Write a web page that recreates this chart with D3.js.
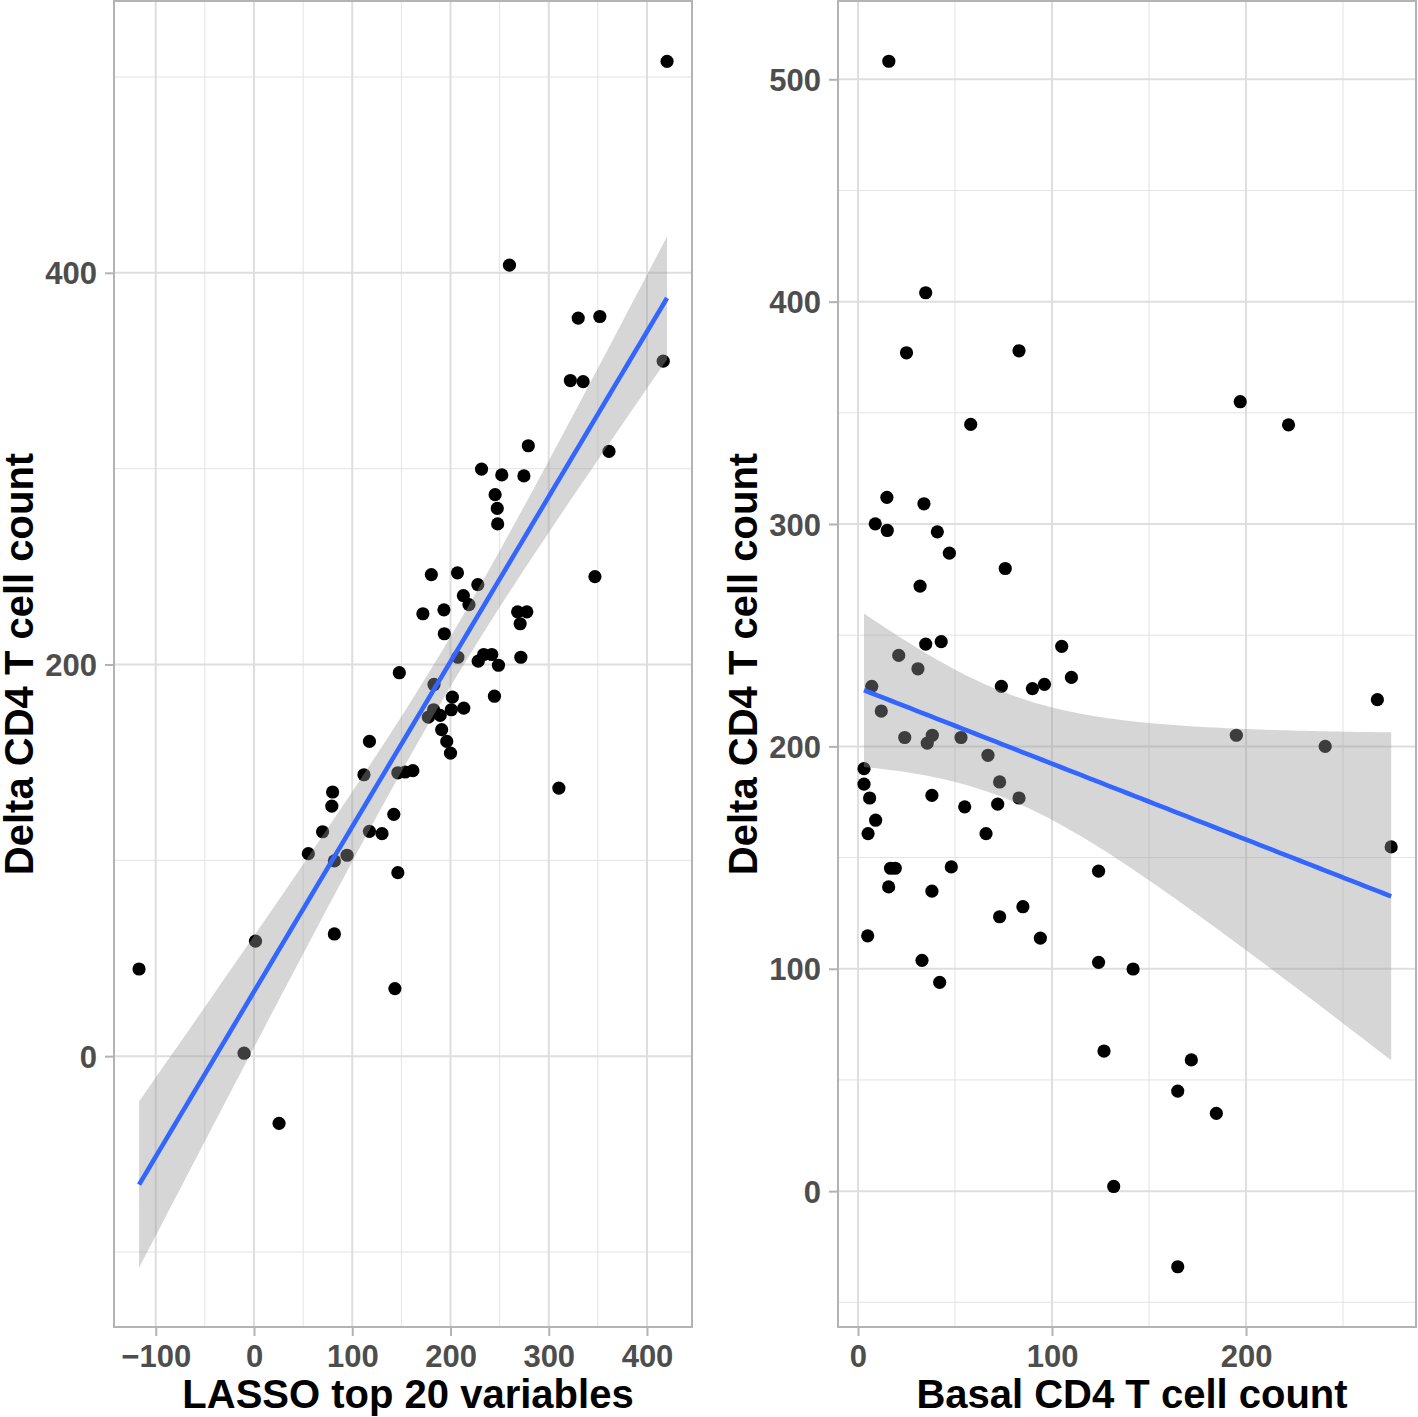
<!DOCTYPE html>
<html><head><meta charset="utf-8">
<script src="https://cdn.jsdelivr.net/npm/d3@7"></script>
<style>
html,body{margin:0;padding:0;background:#fff;}
text{font-family:"Liberation Sans",Arial,Helvetica,sans-serif;font-weight:bold;}
</style></head>
<body>
<svg id="chart" width="1418" height="1417"></svg>
<script>
// ---- Left panel data: LASSO top 20 variables vs Delta CD4 T cell count
const lassoX = [260,330,352,416.5,322,335,279.2,361.3,231.6,252.2,274.7,245.4,247.6,248,
  180.5,207.1,227.8,213.1,218.8,347,171.9,193.3,268.3,277.7,270.9,193.7,207.5,228.2,233.8,242,248.8,271.6,
  147.9,183.2,201.9,244.7,213.5,200.8,182.8,177.5,189.5,191,196.2,200,117.5,111.9,146.4,153.9,161.7,
  80,79.2,310.3,142.3,69.8,117.5,130.3,
  55.3,81.8,94.7,146.4,1.5,81.8,-117,143.4,-10.1,25.5,420.4];
const deltaLeft = [403.9,376.9,377.7,354.9,345,344.4,311.7,308.8,299.8,296.8,296.3,286.7,279.7,271.8,
  245.9,246.8,240.8,235.2,230.6,244.9,225.9,227.9,226.9,226.9,220.8,215.7,203.7,201.7,205.1,205.1,199.6,203.7,
  195.8,189.8,183.3,183.8,177.7,176.9,176.9,173.1,174,166.7,160.7,154.7,160.7,143.7,144.7,145.1,145.8,
  134.9,127.7,136.9,123.5,114.6,114.8,113.6,
  103.4,99.7,102.6,93.7,58.7,62.4,44.5,34.5,1.5,-34.3,508];

// ---- Right panel data: Basal CD4 T cell count vs Delta CD4 T cell count
const basalX = [15.9,34.9,25,83,58.1,197,221.9,
  14.9,34,8.9,15.1,40.9,47.1,75.9,32,34.9,42.9,21,30.9,105,110,7.1,73.9,89.9,96.1,12,
  267.7,195,240.8,274.8,
  24.1,38.3,35.7,53.1,67,3.1,3.1,73,6,38.1,55,72,83,9.1,5.2,66,16.8,19.2,48.1,124,15.8,38.1,85,73,94,5,33,124,141.8,42.1,
  126.8,171.8,164.8,184.7,131.8,164.8];
const deltaRight = [508.1,404,377,377.9,344.8,355,344.6,
  312,309.1,300.1,297.1,296.5,286.9,280,272.1,246,247.1,240.9,234.9,245,231,227,227,226,227.9,215.9,
  221,205,200,154.8,
  204,205,201.5,204,196,190,183,184,176.8,178,172.8,174,176.8,166.8,160.8,160.8,145.2,145.2,145.8,143.9,136.8,134.9,127.9,123.4,113.8,114.8,103.8,102.9,99.9,93.9,
  63,59,45,35,2.1,-34];

// ---- Axis definitions
const leftXTicks = [-100,0,100,200,300,400];
const leftYTicks = [0,200,400];
const rightXTicks = [0,100,200];
const rightYTicks = [0,100,200,300,400,500];
const xTitles = ["LASSO top 20 variables","Basal CD4 T cell count"];
const yTitle = "Delta CD4 T cell count";

const svg = d3.select("#chart");
svg.append("rect").attr("width",1418).attr("height",1417).attr("fill","#fff");

function tq975(df){
  const z=1.959963985;
  const g1=(z**3+z)/4, g2=(5*z**5+16*z**3+3*z)/96, g3=(3*z**7+19*z**5+17*z**3-15*z)/384;
  return z+g1/df+g2/df**2+g3/df**3;
}

function lmFit(xs, ys){
  const n=xs.length, mx=d3.mean(xs), my=d3.mean(ys);
  let sxx=0,sxy=0;
  for(let i=0;i<n;i++){sxx+=(xs[i]-mx)**2;sxy+=(xs[i]-mx)*(ys[i]-my);}
  const b=sxy/sxx, a=my-b*mx;
  let sse=0; for(let i=0;i<n;i++){sse+=(ys[i]-a-b*xs[i])**2;}
  const s=Math.sqrt(sse/(n-2)), t=tq975(n-2);
  const [lo,hi]=d3.extent(xs);
  return d3.range(81).map(k=>{
    const x=lo+(hi-lo)*k/80, f=a+b*x, se=s*Math.sqrt(1/n+(x-mx)**2/sxx);
    return {x, f, lo:f-t*se, hi:f+t*se};
  });
}

function panel(cfg){
  const g=svg.append("g");
  const x=d3.scaleLinear().domain(cfg.xDom).range([cfg.x0,cfg.x1]);
  const y=d3.scaleLinear().domain(cfg.yDom).range([cfg.y1,cfg.y0]);
  const step=(t)=>t[1]-t[0];
  const xMinor=[], yMinor=[];
  const xs=step(cfg.xTicks), ys=step(cfg.yTicks);
  for(let v=cfg.xTicks[0]-xs/2; v<=cfg.xDom[1]; v+=xs) if(v>=cfg.xDom[0]) xMinor.push(v);
  for(let v=cfg.yTicks[0]-ys/2; v<=cfg.yDom[1]; v+=ys) if(v>=cfg.yDom[0]) yMinor.push(v);
  // minor grid
  g.selectAll(".xm").data(xMinor).join("line").attr("x1",d=>x(d)).attr("x2",d=>x(d))
    .attr("y1",cfg.y0).attr("y2",cfg.y1).attr("stroke","#e3e3e3").attr("stroke-width",1);
  g.selectAll(".ym").data(yMinor).join("line").attr("y1",d=>y(d)).attr("y2",d=>y(d))
    .attr("x1",cfg.x0).attr("x2",cfg.x1).attr("stroke","#e3e3e3").attr("stroke-width",1);
  // major grid
  g.selectAll(".xM").data(cfg.xTicks).join("line").attr("x1",d=>x(d)).attr("x2",d=>x(d))
    .attr("y1",cfg.y0).attr("y2",cfg.y1).attr("stroke","#dedede").attr("stroke-width",2);
  g.selectAll(".yM").data(cfg.yTicks).join("line").attr("y1",d=>y(d)).attr("y2",d=>y(d))
    .attr("x1",cfg.x0).attr("x2",cfg.x1).attr("stroke","#dedede").attr("stroke-width",2);
  // points
  const pts=cfg.xv.map((v,i)=>[v,cfg.yv[i]]);
  g.selectAll(".pt").data(pts).join("circle").attr("cx",d=>x(d[0])).attr("cy",d=>y(d[1]))
    .attr("r",6.6).attr("fill","#000");
  // smooth
  const fit=lmFit(cfg.xv,cfg.yv);
  g.append("path").datum(fit).attr("d",d3.area().x(d=>x(d.x)).y0(d=>y(d.lo)).y1(d=>y(d.hi)))
    .attr("fill","#999999").attr("fill-opacity",0.4);
  g.append("path").datum(fit).attr("d",d3.line().x(d=>x(d.x)).y(d=>y(d.f)))
    .attr("fill","none").attr("stroke","#3366FF").attr("stroke-width",4.6);
  // border
  g.append("rect").attr("x",cfg.x0).attr("y",cfg.y0).attr("width",cfg.x1-cfg.x0).attr("height",cfg.y1-cfg.y0)
    .attr("fill","none").attr("stroke","#b3b3b3").attr("stroke-width",2);
  // axes
  const fmt=d3.format("d");
  const ax=g.append("g").attr("transform",`translate(0,${cfg.y1})`)
    .call(d3.axisBottom(x).tickValues(cfg.xTicks).tickFormat(fmt).tickSize(9).tickPadding(6));
  const ay=g.append("g").attr("transform",`translate(${cfg.x0},0)`)
    .call(d3.axisLeft(y).tickValues(cfg.yTicks).tickFormat(fmt).tickSize(9).tickPadding(8));
  [ax,ay].forEach(a=>{
    a.select(".domain").remove();
    a.selectAll(".tick line").attr("stroke","#b3b3b3").attr("stroke-width",2);
    a.selectAll(".tick text").attr("fill","#4d4d4d").style("font-size","31px")
      .style("font-family","'Liberation Sans',Arial,sans-serif").style("font-weight","bold");
  });
  ax.selectAll(".tick text").attr("dy",null).attr("y",40);
  ay.selectAll(".tick text").attr("dy","0.36em");
  // titles
  svg.append("text").attr("x",(cfg.x0+cfg.x1)/2+5).attr("y",1408).attr("text-anchor","middle")
    .attr("fill","#000").style("font-size","40px").text(cfg.xTitle);
  svg.append("text").attr("transform",`translate(${cfg.yTitleX},${(cfg.y0+cfg.y1)/2}) rotate(-90)`)
    .attr("text-anchor","middle").attr("fill","#000").style("font-size","40px").text(yTitle);
}

panel({x0:114,x1:692,y0:1,y1:1327,xDom:[-142.5,445.8],yDom:[-138.3,538.8],
  xTicks:leftXTicks,yTicks:leftYTicks,xv:lassoX,yv:deltaLeft,xTitle:xTitles[0],yTitleX:33});
panel({x0:838,x1:1416,y0:1,y1:1327,xDom:[-10.3,287.6],yDom:[-61.1,535.2],
  xTicks:rightXTicks,yTicks:rightYTicks,xv:basalX,yv:deltaRight,xTitle:xTitles[1],yTitleX:757});
</script>
</body></html>
